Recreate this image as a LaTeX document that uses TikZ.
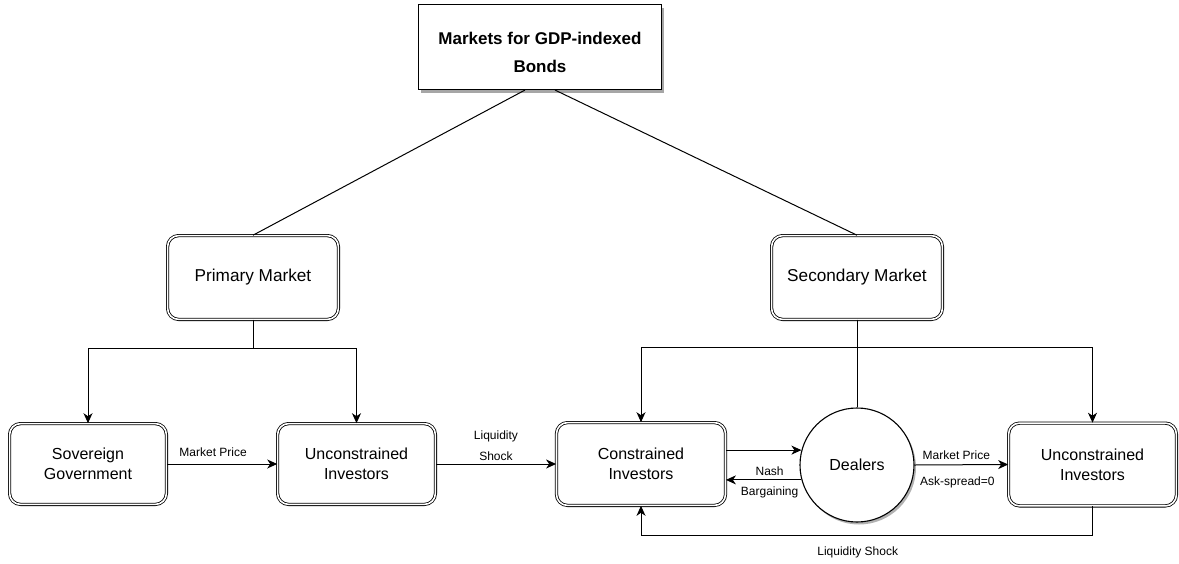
\documentclass[tikz,border=0pt]{standalone}
\usepackage{fontspec}
\setmainfont{Liberation Sans}
\usetikzlibrary{arrows.meta,shadows,calc}
\begin{document}
\begin{tikzpicture}[x=1pt,y=-1pt,
  dbox/.style={draw, double, double distance=1.6pt, line width=0.8pt, rounded corners=11pt,
    align=center, inner sep=0pt, font=\fontsize{16}{20}\selectfont},
  mbox/.style={dbox, font=\fontsize{17.2}{21}\selectfont},
  titlebox/.style={draw, line width=1.1pt, fill=white, inner sep=0pt,
    drop shadow={shadow xshift=2.5pt, shadow yshift=-3pt, fill=black!35, opacity=1}},
  titletext/.style={align=center, inner sep=0pt, font=\bfseries\fontsize{17}{28}\selectfont},
  dealer/.style={draw, circle, line width=1.1pt, fill=white, inner sep=0pt,
    minimum size=114pt, font=\fontsize{16}{20}\selectfont,
    drop shadow={shadow xshift=2pt, shadow yshift=-2.5pt, fill=black!30, opacity=1}},
  lbl/.style={font=\fontsize{12}{21}\selectfont, align=center, inner sep=0pt},
  conn/.style={line width=1pt},
  arr/.style={line width=1pt, -{Stealth[length=10pt,width=9pt,inset=3pt]}}
]
\useasboundingbox (0,0) rectangle (1179,563);

\node[titlebox, minimum width=243pt, minimum height=85pt] (title) at (540,47) {};
\node[titletext] (titlelbl) at (540,52.5) {Markets for GDP-indexed\\Bonds};

\node[mbox, minimum width=170.8pt, minimum height=83.8pt] (prim) at (253,277.5) {Primary Market};
\node[mbox, minimum width=170.8pt, minimum height=83.8pt] (sec) at (857,277.5) {Secondary Market};

\node[dbox, minimum width=156.8pt, minimum height=80.8pt] (sov) at (88,464) {Sovereign\\Government};
\node[dbox, minimum width=157.8pt, minimum height=80.8pt] (uncl) at (356.5,464) {Unconstrained\\Investors};
\node[dbox, minimum width=169pt, minimum height=82.8pt] (con) at (641,464) {Constrained\\Investors};
\node[dealer] (deal) at (857,465) {Dealers};
\node[dbox, minimum width=167.8pt, minimum height=82.8pt] (uncr) at (1092.5,464.5) {Unconstrained\\Investors};

% title to markets
\draw[conn] ($(title.south)+(-15,0)$) -- (prim.north);
\draw[conn] ($(title.south)+(15,0)$) -- (sec.north);

% primary market branches
\draw[arr] (prim.south) -- ++(0,29) -| (sov.north);
\draw[arr] (prim.south) -- ++(0,29) -| (uncl.north);

% secondary market branches
\draw[arr] (sec.south) -- ++(0,28) -| (con.north);
\draw[arr] (sec.south) -- ++(0,28) -| (uncr.north);
\draw[conn] (sec.south) -- (deal.north);

% horizontal flows
\draw[arr] (sov.east) -- (uncl.west)
  node[lbl, pos=0.42, yshift=12pt] {Market Price};
\draw[arr] (uncl.east) -- (con.west)
  node[lbl, midway, yshift=18.5pt] {Liquidity\\Shock};
\draw[arr] (con.east |- deal.165) -- (deal.165);
\draw[arr] (deal.195) -- (con.east |- deal.195)
  node[lbl, midway, xshift=6pt, yshift=9pt] {Nash}
  node[lbl, midway, xshift=6pt, yshift=-12pt] {Bargaining};
\draw[arr] (deal.east) -- (uncr.west)
  node[lbl, midway, xshift=-5pt, yshift=10pt] {Market Price}
  node[lbl, midway, xshift=-4pt, yshift=-18pt] {Ask-spread=0};

% liquidity shock feedback
\draw[arr] (uncr.south) -- ++(0,29) coordinate (b1) -- (b1 -| con.south)
  node[lbl, pos=0.52, yshift=-17pt] {Liquidity Shock} -- (con.south);
\end{tikzpicture}
\end{document}
